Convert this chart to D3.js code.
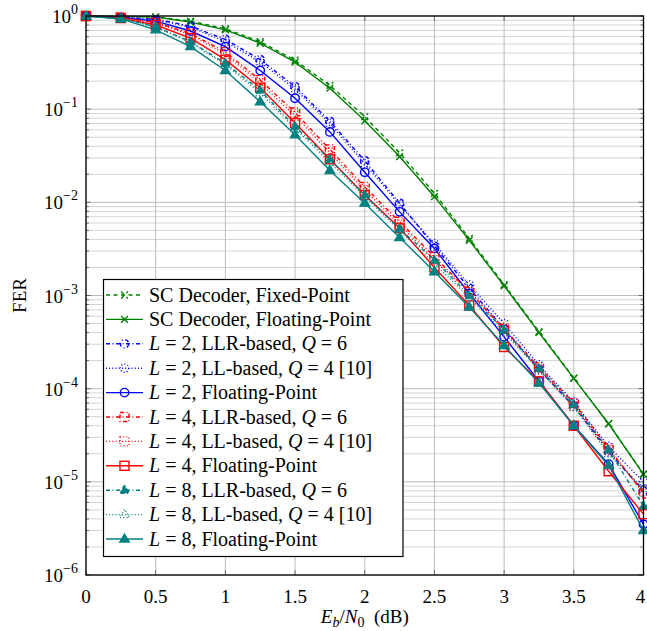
<!DOCTYPE html>
<html>
<head>
<meta charset="utf-8">
<script src="https://cdn.jsdelivr.net/npm/d3@7"></script>
<style>
  html, body { margin: 0; padding: 0; background: #fff; }
</style>
</head>
<body>
<div id="chart"></div>
<script>
// Eb/N0 points (dB)
const ebn0 = [0, 0.25, 0.5, 0.75, 1, 1.25, 1.5, 1.75, 2, 2.25, 2.5, 2.75, 3, 3.25, 3.5, 3.75, 4];

// FER values
const scFixed  = [1, 0.99, 0.98, 0.88, 0.73, 0.53, 0.335, 0.18, 0.083, 0.034, 0.0125, 0.0041, 0.00131, 4.1e-4, 1.3e-4, 4.2e-5, 1.22e-5];
const scFloat  = [1, 0.99, 0.975, 0.86, 0.71, 0.51, 0.32, 0.168, 0.075, 0.031, 0.0115, 0.0039, 0.00127, 4.0e-4, 1.29e-4, 4.2e-5, 1.2e-5];
const l2Llr    = [1, 0.97, 0.92, 0.78, 0.56, 0.34, 0.175, 0.074, 0.028, 0.0098, 0.0034, 0.0012, 4.4e-4, 1.6e-4, 6.5e-5, 2.1e-5, 8.0e-6];
const l2Ll     = [1, 0.97, 0.91, 0.76, 0.53, 0.32, 0.165, 0.07, 0.026, 0.0094, 0.0036, 0.0013, 5.0e-4, 1.8e-4, 7.2e-5, 2.4e-5, 1.0e-5];
const l2Float  = [1, 0.96, 0.88, 0.69, 0.47, 0.26, 0.131, 0.057, 0.021, 0.0079, 0.0032, 0.00105, 3.6e-4, 1.2e-4, 4.0e-5, 1.55e-5, 3.5e-6];
const l4Llr    = [1, 0.96, 0.85, 0.65, 0.41, 0.205, 0.092, 0.037, 0.0146, 0.0062, 0.0026, 0.0011, 4.4e-4, 1.7e-4, 7.0e-5, 2.3e-5, 7.5e-6];
const l4Ll     = [1, 0.96, 0.84, 0.63, 0.39, 0.19, 0.085, 0.034, 0.0135, 0.0058, 0.0024, 0.0011, 4.2e-4, 1.6e-4, 6.5e-5, 2.2e-5, 8.0e-6];
const l4Float  = [1, 0.95, 0.80, 0.58, 0.34, 0.17, 0.071, 0.029, 0.012, 0.0053, 0.0020, 7.8e-4, 2.8e-4, 1.2e-4, 4.0e-5, 1.3e-5, 4.5e-6];
const l8Llr    = [1, 0.94, 0.77, 0.53, 0.31, 0.16, 0.065, 0.029, 0.012, 0.0052, 0.0024, 0.001, 4.3e-4, 1.65e-4, 6.8e-5, 2.2e-5, 5.5e-6];
const l8Ll     = [1, 0.94, 0.76, 0.52, 0.30, 0.15, 0.062, 0.027, 0.0115, 0.005, 0.0022, 9.5e-4, 4.0e-4, 1.6e-4, 6.3e-5, 2.0e-5, 8.5e-6];
const l8Float  = [1, 0.93, 0.71, 0.47, 0.26, 0.12, 0.053, 0.022, 0.0098, 0.0042, 0.0018, 7.5e-4, 2.9e-4, 1.15e-4, 4.0e-5, 1.5e-5, 3.0e-6];

// Axis ticks
const xTicks = [0, 0.5, 1, 1.5, 2, 2.5, 3, 3.5, 4];
const yExponents = [0, -1, -2, -3, -4, -5, -6];

// Legend entries: [math var, plain middle, math var 2, tail]
const legendLabels = [
    ["", "SC Decoder, Fixed-Point", "", ""],
    ["", "SC Decoder, Floating-Point", "", ""],
    ["L", " = 2, LLR-based, ", "Q", " = 6"],
    ["L", " = 2, LL-based, ", "Q", " = 4 [10]"],
    ["L", " = 2, Floating-Point", "", ""],
    ["L", " = 4, LLR-based, ", "Q", " = 6"],
    ["L", " = 4, LL-based, ", "Q", " = 4 [10]"],
    ["L", " = 4, Floating-Point", "", ""],
    ["L", " = 8, LLR-based, ", "Q", " = 6"],
    ["L", " = 8, LL-based, ", "Q", " = 4 [10]"],
    ["L", " = 8, Floating-Point", "", ""]
];

const W = 647, H = 631;
const margin = { top: 16, right: 3.5, bottom: 56, left: 86 };
const width = W - margin.left - margin.right;
const height = H - margin.top - margin.bottom;
const SERIF = "Liberation Serif";

const GREEN = "#008000", BLUE = "#0000ff", RED = "#ff0000", TEAL = "#008080";
const DASHED = "4,3.5", DASHDOT = "4,2.5,1,2.5", DOTTED = "1,2.2", SOLID = null;
const LW = 1.4;

const series = [
    { values: scFixed, color: GREEN, dash: DASHED,  mark: "cross" },
    { values: scFloat, color: GREEN, dash: SOLID,   mark: "cross" },
    { values: l2Llr,   color: BLUE,  dash: DASHDOT, mark: "circle" },
    { values: l2Ll,    color: BLUE,  dash: DOTTED,  mark: "circle" },
    { values: l2Float, color: BLUE,  dash: SOLID,   mark: "circle" },
    { values: l4Llr,   color: RED,   dash: DASHDOT, mark: "square" },
    { values: l4Ll,    color: RED,   dash: DOTTED,  mark: "square" },
    { values: l4Float, color: RED,   dash: SOLID,   mark: "square" },
    { values: l8Llr,   color: TEAL,  dash: DASHDOT, mark: "triangle", fill: true },
    { values: l8Ll,    color: TEAL,  dash: DOTTED,  mark: "triangle" },
    { values: l8Float, color: TEAL,  dash: SOLID,   mark: "triangle", fill: true }
];

const svg = d3.select("#chart").append("svg")
    .attr("width", W).attr("height", H)
    .attr("viewBox", `0 0 ${W} ${H}`)
    .style("display", "block");

const g = svg.append("g").attr("transform", `translate(${margin.left},${margin.top})`);

const x = d3.scaleLinear().domain([0, 4]).range([0, width]);
const y = d3.scaleLog().domain([1e-6, 1]).range([height, 0]);

// serif text helper
function serifText(parent, size) {
    return parent.append("text")
        .style("font-family", `"${SERIF}"`)
        .style("font-size", size + "px")
        .attr("fill", "#000");
}

// minor grid (2..9 in every decade)
const minorVals = [];
yExponents.slice(1).forEach(e => {
    for (let k = 2; k <= 9; k++) minorVals.push(k * Math.pow(10, e));
});

g.append("g").selectAll("line").data(minorVals).enter().append("line")
    .attr("x1", 0).attr("x2", width)
    .attr("y1", d => y(d)).attr("y2", d => y(d))
    .attr("stroke", "#d4d4d4").attr("stroke-width", 1);

// major grid
g.append("g").selectAll("line").data(yExponents.map(e => Math.pow(10, e))).enter().append("line")
    .attr("x1", 0).attr("x2", width)
    .attr("y1", d => y(d)).attr("y2", d => y(d))
    .attr("stroke", "#bcbcbc").attr("stroke-width", 1);

g.append("g").selectAll("line").data(xTicks).enter().append("line")
    .attr("x1", d => x(d)).attr("x2", d => x(d))
    .attr("y1", 0).attr("y2", height)
    .attr("stroke", "#bcbcbc").attr("stroke-width", 1);

// inner tick marks on all four sides
const tickG = g.append("g").attr("stroke", "#555").attr("stroke-width", 0.8);
xTicks.forEach(v => {
    tickG.append("line").attr("x1", x(v)).attr("x2", x(v)).attr("y1", height).attr("y2", height - 5);
    tickG.append("line").attr("x1", x(v)).attr("x2", x(v)).attr("y1", 0).attr("y2", 5);
});
yExponents.forEach(e => {
    const v = Math.pow(10, e);
    tickG.append("line").attr("x1", 0).attr("x2", 5).attr("y1", y(v)).attr("y2", y(v));
    tickG.append("line").attr("x1", width).attr("x2", width - 5).attr("y1", y(v)).attr("y2", y(v));
});
minorVals.forEach(v => {
    tickG.append("line").attr("x1", 0).attr("x2", 3).attr("y1", y(v)).attr("y2", y(v));
    tickG.append("line").attr("x1", width).attr("x2", width - 3).attr("y1", y(v)).attr("y2", y(v));
});

// x tick labels placed with the scale
xTicks.forEach(v => {
    serifText(g, 19)
        .attr("x", Math.min(x(v), width - 3)).attr("y", height + 28)
        .attr("text-anchor", "middle")
        .text(d3.format("")(v));
});

// y axis labels 10^e
yExponents.forEach(e => {
    const t = serifText(g, 19)
        .attr("x", -8).attr("y", y(Math.pow(10, e)) + 7)
        .attr("text-anchor", "end");
    t.append("tspan").text("10");
    t.append("tspan").attr("dy", -9).style("font-size", "14px").text(e === 0 ? "0" : "\u2212" + Math.abs(e));
});

// axis titles
serifText(svg, 19)
    .attr("transform", `translate(26,${margin.top + height / 2}) rotate(-90)`)
    .attr("text-anchor", "middle")
    .text("FER");

const xl = serifText(svg, 19)
    .attr("x", margin.left + width / 2).attr("y", H - 8)
    .attr("text-anchor", "middle");
xl.append("tspan").style("font-style", "italic").text("E");
xl.append("tspan").style("font-style", "italic").style("font-size", "14px").attr("dy", 4).text("b");
xl.append("tspan").attr("dy", -4).text("/");
xl.append("tspan").style("font-style", "italic").text("N");
xl.append("tspan").style("font-size", "14px").attr("dy", 4).text("0");
xl.append("tspan").attr("dy", -4).text("\u2002(dB)");

// marker drawing
function drawMark(sel, s, cx, cy) {
    const common = m => m.attr("stroke", s.color).attr("stroke-width", LW)
        .attr("stroke-dasharray", s.dash);
    if (s.mark === "circle") {
        common(sel.append("circle").attr("cx", cx).attr("cy", cy).attr("r", 4.2).attr("fill", "none"));
    } else if (s.mark === "square") {
        common(sel.append("rect").attr("x", cx - 4.5).attr("y", cy - 4.5).attr("width", 9).attr("height", 9).attr("fill", "none"));
    } else if (s.mark === "triangle") {
        const r = 5;
        const pts = [[cx, cy - r], [cx - r * 0.95, cy + r * 0.6], [cx + r * 0.95, cy + r * 0.6]];
        common(sel.append("polygon").attr("points", pts.map(p => p.join(",")).join(" "))
            .attr("fill", s.fill ? s.color : "none"));
    } else {
        const r = 3.4;
        common(sel.append("path")
            .attr("d", `M${cx - r},${cy - r}L${cx + r},${cy + r}M${cx - r},${cy + r}L${cx + r},${cy - r}`)
            .attr("fill", "none"));
    }
}

const line = d3.line().x(d => x(d[0])).y(d => y(d[1]));

const plotG = g.append("g");
series.forEach(s => {
    const pts = ebn0.map((e, i) => [e, s.values[i]]);
    plotG.append("path").datum(pts)
        .attr("d", line)
        .attr("fill", "none")
        .attr("stroke", s.color)
        .attr("stroke-width", LW)
        .attr("stroke-dasharray", s.dash);
    const mg = plotG.append("g");
    pts.forEach(p => drawMark(mg, s, x(p[0]), y(p[1])));
});

// frame
g.append("rect").attr("x", 0).attr("y", 0).attr("width", width).attr("height", height)
    .attr("fill", "none").attr("stroke", "#000").attr("stroke-width", 1.3);

// legend
const lg = svg.append("g");
const lgX = 103.5, lgY = 279.5, lgW = 299.5, lgH = 277, rowH = 24.4, row0 = 295;
lg.append("rect").attr("x", lgX).attr("y", lgY).attr("width", lgW).attr("height", lgH)
    .attr("fill", "#fff").attr("stroke", "#000").attr("stroke-width", 1.2);

series.forEach((s, i) => {
    const cy = row0 + i * rowH;
    lg.append("line").attr("x1", 106).attr("x2", 143).attr("y1", cy).attr("y2", cy)
        .attr("stroke", s.color).attr("stroke-width", LW).attr("stroke-dasharray", s.dash);
    drawMark(lg, s, 124.5, cy);
    const lab = legendLabels[i];
    const t = serifText(lg, 20).attr("x", 149).attr("y", cy + 6.5);
    if (lab[0]) t.append("tspan").style("font-style", "italic").text(lab[0]);
    t.append("tspan").text(lab[1]);
    if (lab[2]) t.append("tspan").style("font-style", "italic").text(lab[2]);
    if (lab[3]) t.append("tspan").text(lab[3]);
});
</script>
</body>
</html>
